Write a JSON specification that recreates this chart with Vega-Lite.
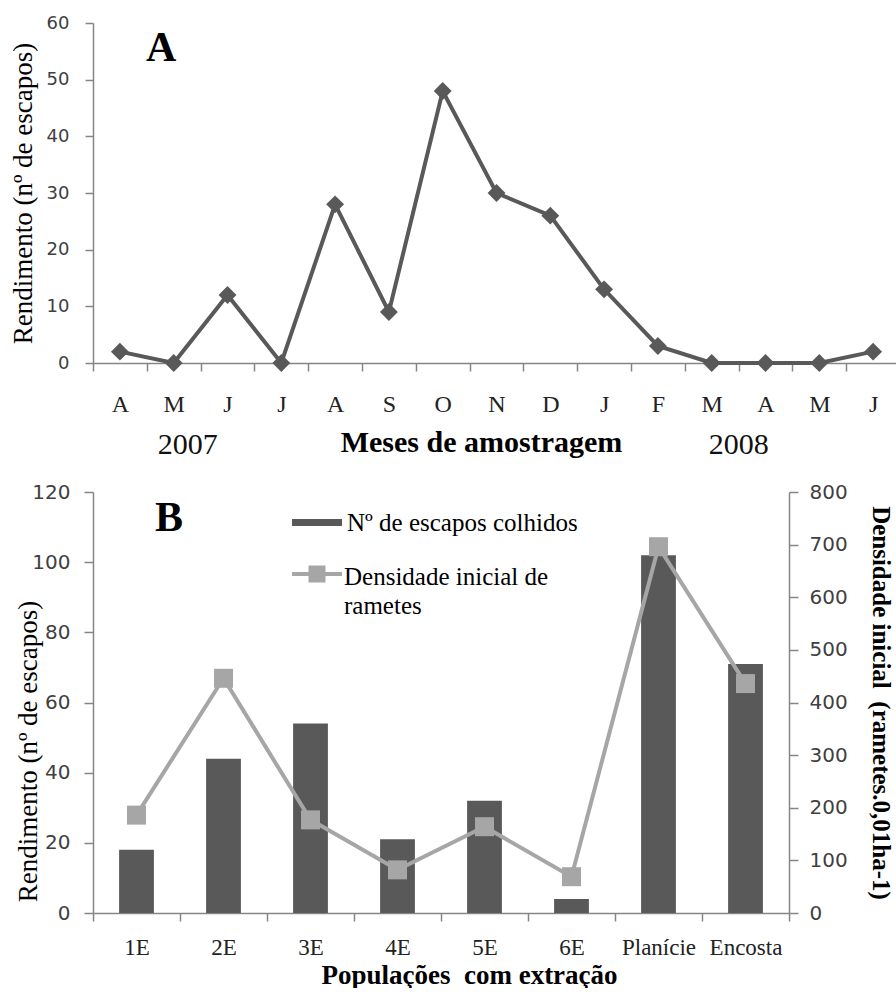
{
  "$schema": "https://vega.github.io/schema/vega-lite/v6.json",
  "background": "white",
  "padding": {"left": 9, "top": 14, "right": 0, "bottom": 0},
  "spacing": 23,
  "config": {
    "view": {"stroke": null},
    "axis": {
      "domainColor": "#868686", "tickColor": "#868686", "domainWidth": 1.5, "tickWidth": 1.5,
      "grid": false, "labelColor": "#404040", "titleColor": "#111",
      "labelFont": "DejaVu Sans", "titleFont": "Liberation Serif"
    }
  },
  "vconcat": [
    {
      "width": 807,
      "height": 340,
      "title": {"text": "A", "anchor": "start", "frame": "group", "dx": 53, "offset": -56, "font": "Liberation Serif", "fontSize": 42, "fontWeight": "bold", "color": "#000"},
      "data": {"values": [
        {"mes": "Abr07", "rend": 2}, {"mes": "Mai07", "rend": 0}, {"mes": "Jun07", "rend": 12},
        {"mes": "Jul07", "rend": 0}, {"mes": "Ago07", "rend": 28}, {"mes": "Set07", "rend": 9},
        {"mes": "Out07", "rend": 48}, {"mes": "Nov07", "rend": 30}, {"mes": "Dez07", "rend": 26},
        {"mes": "Jan08", "rend": 13}, {"mes": "Fev08", "rend": 3}, {"mes": "Mar08", "rend": 0},
        {"mes": "Abr08", "rend": 0}, {"mes": "Mai08", "rend": 0}, {"mes": "Jun08", "rend": 2}
      ]},
      "encoding": {
        "y": {"field": "rend", "type": "quantitative", "scale": {"domain": [0, 60]},
          "axis": {"values": [0, 10, 20, 30, 40, 50, 60], "title": "Rendimento (nº de escapos)", "titleFontSize": 27, "titleFontWeight": "normal", "titleColor": "#000", "labelFontSize": 18, "tickSize": 8, "labelPadding": 16, "titlePadding": 9}}
      },
      "layer": [
        {
          "mark": {"type": "line", "color": "#595959", "strokeWidth": 4},
          "encoding": {
            "x": {"field": "mes", "type": "ordinal", "sort": null, "bandPosition": 0.5,
              "scale": {"type": "band", "paddingInner": 0, "paddingOuter": 0},
              "axis": {"orient": "bottom", "title": "Meses de amostragem", "titleFont": "Liberation Serif", "titleFontSize": 30, "titleFontWeight": "bold", "titleColor": "#000", "titleX": 388, "titlePadding": 11,
                "labelExpr": "substring(datum.label, 0, 1)", "labelFont": "Liberation Serif", "labelFontSize": 24, "labelColor": "#222", "labelAngle": 0, "labelPadding": 21, "tickSize": 8, "tickBand": "extent", "labelOverlap": false}}
          }
        },
        {
          "mark": {"type": "point", "shape": "diamond", "filled": true, "size": 320, "color": "#595959", "opacity": 1},
          "encoding": {
            "x": {"field": "mes", "type": "ordinal", "sort": null, "bandPosition": 0.5,
              "axis": {"orient": "bottom", "title": null, "domain": false, "ticks": false, "tickSize": 0, "values": ["Mai07", "Mar08"],
                "labelExpr": "datum.value == 'Mai07' ? '2007' : '2008'", "labelFont": "Liberation Serif", "labelFontSize": 30, "labelColor": "#111", "labelAngle": 0, "labelPadding": 66,
                "labelOffset": {"condition": {"test": "datum.value == 'Mai07'", "value": 14}, "value": 27}}}
          }
        }
      ],
      "resolve": {"axis": {"x": "independent"}}
    },
    {
      "width": 696,
      "height": 421,
      "title": {"text": "B", "anchor": "start", "frame": "group", "dx": 62, "offset": -58, "font": "Liberation Serif", "fontSize": 42, "fontWeight": "bold", "color": "#000"},
      "data": {"values": [
        {"pop": "1E", "esc": 18, "dens": 186},
        {"pop": "2E", "esc": 44, "dens": 446},
        {"pop": "3E", "esc": 54, "dens": 177},
        {"pop": "4E", "esc": 21, "dens": 82},
        {"pop": "5E", "esc": 32, "dens": 164},
        {"pop": "6E", "esc": 4, "dens": 69},
        {"pop": "Planície", "esc": 102, "dens": 696},
        {"pop": "Encosta", "esc": 71, "dens": 436}
      ]},
      "layer": [
        {
          "mark": {"type": "bar", "width": {"band": 0.4}},
          "encoding": {
            "x": {"field": "pop", "type": "nominal", "sort": null,
              "scale": {"type": "band", "paddingInner": 0, "paddingOuter": 0},
              "axis": {"title": "Populações\u00a0 com extração", "titleFont": "Liberation Serif", "titleFontSize": 27, "titleFontWeight": "bold", "titleColor": "#000", "titleX": 376, "titlePadding": 3,
                "labelFont": "Liberation Serif", "labelFontSize": 23, "labelColor": "#222", "labelAngle": 0, "labelPadding": 15, "tickSize": 8, "tickBand": "extent", "labelOverlap": false}},
            "y": {"field": "esc", "type": "quantitative", "scale": {"domain": [0, 120]},
              "axis": {"values": [0, 20, 40, 60, 80, 100, 120], "title": "Rendimento (nº de escapos)", "titleFontSize": 27, "titleFontWeight": "normal", "titleColor": "#000", "titlePadding": -11, "titleY": 259, "labelFontSize": 20, "tickSize": 9, "labelPadding": 14}},
            "fill": {"datum": "Nº de escapos colhidos", "scale": {"range": ["#595959"]},
              "legend": {"orient": "none", "legendX": 199, "legendY": 474.5, "title": null, "padding": 0,
                "symbolType": "M-1,-0.14H1V0.14H-1Z", "symbolSize": 2500, "symbolStrokeWidth": 0,
                "labelFont": "Liberation Serif", "labelFontSize": 25, "labelColor": "#000", "labelLimit": 400, "labelOffset": 5}}
          }
        },
        {
          "layer": [
            {
              "mark": {"type": "line", "strokeWidth": 4},
              "encoding": {
                "x": {"field": "pop", "type": "nominal", "sort": null, "bandPosition": 0.5},
                "y": {"field": "dens", "type": "quantitative", "scale": {"domain": [0, 800]},
                  "axis": {"orient": "right", "values": [0, 100, 200, 300, 400, 500, 600, 700, 800], "title": "Densidade inicial\u00a0 (rametes.0,01ha-1)", "titleFont": "Liberation Serif", "titleFontSize": 25, "titleFontWeight": "bold", "titleColor": "#000", "titlePadding": 20, "labelFontSize": 20, "tickSize": 9, "labelPadding": 11}},
                "stroke": {"datum": "Densidade inicial de rametes", "scale": {"range": ["#a6a6a6"]},
                  "legend": {"orient": "none", "legendX": 197, "legendY": 527, "title": null, "padding": 0,
                    "symbolType": "M-1,-0.12H1M-0.26,-0.38H0.26V0.14H-0.26Z", "symbolSize": 2500, "symbolStrokeWidth": 4,
                    "labelExpr": "['Densidade inicial de', 'rametes']",
                    "labelFont": "Liberation Serif", "labelFontSize": 25, "labelColor": "#000", "labelLimit": 400, "labelOffset": 0,
                    "encode": {"symbols": {"update": {"fill": {"value": "#a6a6a6"}}}, "labels": {"update": {"lineHeight": {"value": 29}}}}}}
              }
            },
            {
              "mark": {"type": "point", "shape": "square", "filled": true, "size": 361, "color": "#a6a6a6", "opacity": 1},
              "encoding": {
                "x": {"field": "pop", "type": "nominal", "sort": null, "bandPosition": 0.5},
                "y": {"field": "dens", "type": "quantitative"}
              }
            }
          ]
        }
      ],
      "resolve": {"scale": {"y": "independent"}}
    }
  ]
}
